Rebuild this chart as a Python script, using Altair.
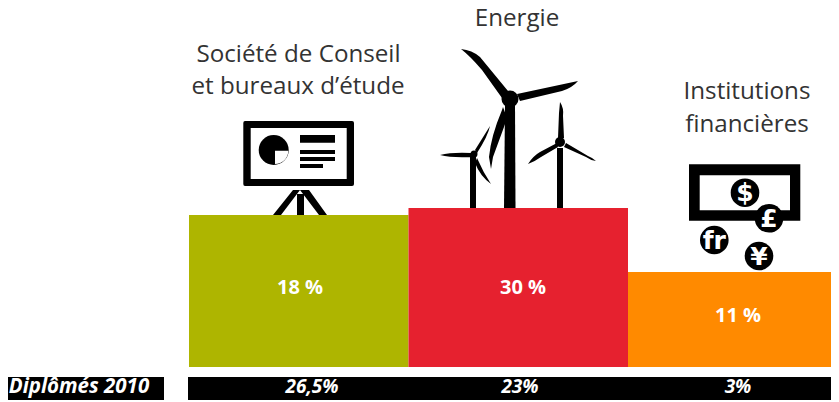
import altair as alt
import pandas as pd

# ---- values ----
categories = ["Conseil", "Energie", "Finance"]
bar_heights = [152, 159, 95]
share_labels = ["18 %", "30 %", "11 %"]
graduate_labels = ["26,5%", "23%", "3%"]
row_title = "Diplômés 2010"
title_lines = ["Société de Conseil", "et bureaux d’étude", "Energie", "Institutions", "financières"]
currency_glyphs = ["$", "£", "fr", "¥"]

# ---- styles and layout (image pixels; the page margin is 8px) ----
colors = ["#AEB500", "#E6212F", "#FF8A00"]
W, H, M = 823, 392, 8
FONT = "Open Sans"
title_pos = [(298.5, 62), (298, 94), (517, 26), (747, 99), (747, 132)]
share_pos = [(300, 294), (523, 294), (738, 322)]
grad_pos = [(312, 393), (520, 393), (738, 393)]
row_title_pos = (79, 393)
coin_pos = [(745, 192.7), (769, 218.3), (714.3, 240), (759, 256)]


def frame(rows):
    return pd.DataFrame(rows)


def px_x(f="x"):
    return alt.X(f"{f}:Q", scale=None, axis=None)


def px_y(f="y"):
    return alt.Y(f"{f}:Q", scale=None, axis=None)


def text_layer(texts, pos, **style):
    rows = [{"t": t, "x": p[0] - M, "y": p[1] - M} for t, p in zip(texts, pos)]
    return alt.Chart(frame(rows)).mark_text(baseline="alphabetic", **style).encode(
        x=px_x(), y=px_y(), text="t:N")


def shape_layer(path, color="#000000"):
    # size 4 makes one path unit one pixel; path is written in image pixels
    return alt.Chart(frame([{"x": -M, "y": -M}])).mark_point(
        shape=path, size=4, filled=True, fill=color, opacity=1, strokeWidth=0
    ).encode(x=px_x(), y=px_y())


def rect_layer(x0, x1, y0, y1, color="#000000"):
    rows = [{"x": x0 - M, "x2": x1 - M, "y": y0 - M, "y2": y1 - M}]
    return alt.Chart(frame(rows)).mark_rect(color=color).encode(
        x=px_x(), x2="x2:Q", y=px_y(), y2="y2:Q")


def circle_layer(cx, cy, r, color="#000000"):
    return alt.Chart(frame([{"x": cx - M, "y": cy - M}])).mark_circle(
        size=(2 * r) ** 2, color=color, opacity=1).encode(x=px_x(), y=px_y())


# ---- icons ----
screen_outer = ("M245,121 L352,121 Q354,121 354,123 L354,184 Q354,186 352,186 "
                "L245,186 Q243.3,186 243.3,184 L243.3,123 Q243.3,121 245,121 Z")
tripod = ("M293,190 L300,190 L281,215 L273,215 Z M300,190 L309,190 L327,215 L319,215 Z "
          "M297,194 L304,194 L304,215 L297,215 Z")
quarter = "M275,150.7 L288.3,150.7 A13.3,13.3 0 0 1 275,164 Z"

big_tower = "M505,105 L515,105 L515.5,208 L504,208 Z"
big_blades = ("M461,49 Q472,50 480,57 L508,91 L502,98 L482,70 Q470,56 461,49 Z "
              "M578,81 L517,94 L520,101 L562,91 Q572,88 578,81 Z "
              "M503,107 L507,118 L504,127 L493,157 L491,169 L489,157 Q491,136 502,110 Z")
small_left = ("M472,155 L476,155 L476,208 L470,208 L470,155 Z "
              "M440,155 Q452,152 471,153 L471,157 Q452,158 440,155 Z "
              "M475,150 L490,126 Q488,136 477,153 Z "
              "M477,158 Q483,172 491,184 Q480,176 475,163 Z")
small_right = ("M557,148 L563,148 L563,208 L557,208 Z "
               "M560,102 Q564,108 563,116 L564,138 L558,138 L559,113 Z "
               "M528,164 Q533,156 540,152 L557,143 L558,147 L541,157 Q534,162 528,164 Z "
               "M596,161 Q590,160 586,157 L564,147 L566,143 L588,156 Q593,158 596,161 Z")

# ---- data table for the bars ----
bars = frame([{"cat": c, "h": h, "col": k} for c, h, k in zip(categories, bar_heights, colors)])
bar_layer = alt.Chart(bars).mark_bar(stroke=None).encode(
    x=alt.X("cat:N", axis=None, sort=categories,
            scale=alt.Scale(domain=categories, range=[189 - M, 189 - M + 3 * 219.5],
                            paddingInner=0, paddingOuter=0)),
    y=alt.Y("h:Q", axis=None,
            scale=alt.Scale(domain=[0, 159], range=[367 - M, 208 - M], nice=False, zero=True)),
    color=alt.Color("col:N", scale=None, legend=None),
)

layers = [
    rect_layer(0, 839, 0, 402, "#FFFFFF"),
    # presentation board
    shape_layer(screen_outer),
    rect_layer(250.7, 346.7, 128, 179, "#FFFFFF"),
    circle_layer(273.7, 150, 15),
    shape_layer(quarter, "#FFFFFF"),
    rect_layer(300, 335, 135, 142.7),
    rect_layer(300, 335, 150, 154),
    rect_layer(300, 335, 157, 161),
    rect_layer(300, 323, 164, 168),
    shape_layer(tripod),
    # turbines
    shape_layer(small_left),
    circle_layer(474, 154, 3.5),
    shape_layer(small_right),
    circle_layer(560, 142, 5),
    shape_layer(big_tower),
    shape_layer(big_blades),
    circle_layer(510, 99, 8.5),
    # money
    rect_layer(689, 800.3, 164.3, 220.7),
    rect_layer(699.7, 790, 175.3, 210.3, "#FFFFFF"),
]
for (cx, cy) in coin_pos:
    layers.append(circle_layer(cx, cy, 14.3))
layers.append(text_layer(currency_glyphs, [(x, y + 8.5) for x, y in coin_pos],
                         font="DejaVu Sans", fontWeight="bold", fontSize=25, color="#FFFFFF"))

layers += [
    bar_layer,
    rect_layer(8, 164, 377, 400),
    rect_layer(188, 839, 377, 400),
    text_layer(title_lines, title_pos, font=FONT, fontSize=24.2, color="#333333"),
    text_layer(share_labels, share_pos, font=FONT, fontSize=20, fontWeight="bold", color="#FFFFFF"),
    text_layer(graduate_labels, grad_pos, font=FONT, fontSize=19, fontWeight="bold",
               fontStyle="italic", color="#FFFFFF"),
    text_layer([row_title], [row_title_pos], font=FONT, fontSize=20.5, fontWeight="bold",
               fontStyle="italic", color="#FFFFFF"),
]

chart = alt.layer(*layers).resolve_scale(x="independent", y="independent", color="independent").properties(
    width=W, height=H, padding=0, autosize=alt.AutoSizeParams(type="none"), background="#FFFFFF"
).configure_view(stroke=None)

chart.save("out.html", embed_options={"renderer": "svg", "actions": False})
